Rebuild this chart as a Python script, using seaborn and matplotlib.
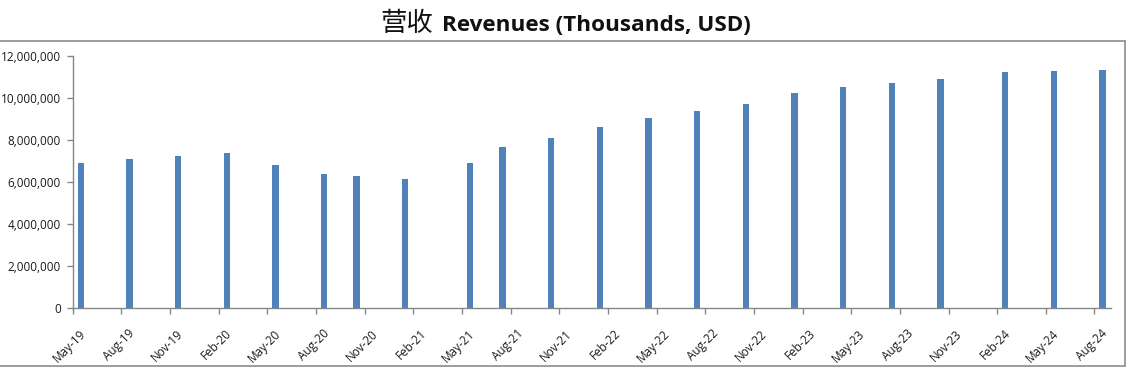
import matplotlib
matplotlib.use("Agg")
import matplotlib.pyplot as plt
import matplotlib.transforms as mtransforms
import seaborn as sns
import numpy as np
import pandas as pd
from matplotlib.ticker import FuncFormatter, FixedLocator
from matplotlib.lines import Line2D

# ---- data ----
periods = ["2019-05", "2019-08", "2019-11", "2020-02", "2020-05", "2020-08", "2020-10",
           "2021-01", "2021-05", "2021-07", "2021-10", "2022-01", "2022-04", "2022-07",
           "2022-10", "2023-01", "2023-04", "2023-07", "2023-10", "2024-02", "2024-05",
           "2024-08"]
revenues = [6900000, 7090000, 7240000, 7380000, 6810000, 6380000, 6280000,
            6140000, 6900000, 7660000, 8090000, 8610000, 9040000, 9370000,
            9710000, 10230000, 10510000, 10700000, 10890000, 11230000, 11280000,
            11330000]
tick_labels = ["May-19", "Aug-19", "Nov-19", "Feb-20", "May-20", "Aug-20", "Nov-20",
               "Feb-21", "May-21", "Aug-21", "Nov-21", "Feb-22", "May-22", "Aug-22",
               "Nov-22", "Feb-23", "May-23", "Aug-23", "Nov-23", "Feb-24", "May-24",
               "Aug-24"]
y_ticks = [0, 2000000, 4000000, 6000000, 8000000, 10000000, 12000000]
title_cn = "营收"
title_en = "Revenues (Thousands, USD)"

# month index axis (May-2019 = 0), bars centered in their month slot
start = pd.Period("2019-05", freq="M")
pos = [(pd.Period(p, freq="M") - start).n + 0.5 for p in periods]
tick_pos = [(pd.Period(pd.to_datetime(l, format="%b-%y"), freq="M") - start).n for l in tick_labels]
df = pd.DataFrame({"pos": pos, "rev": revenues})

sns.set_theme(style="white")
plt.rcParams["font.family"] = ["Open Sans", "Noto Sans CJK SC", "DejaVu Sans"]

W, H = 1129, 371
fig = plt.figure(figsize=(W / 100, H / 100), dpi=100)
ax = fig.add_axes([72.7 / W, 1 - 308.3 / H, (1110.7 - 72.7) / W, (308.3 - 55.7) / H])

sns.barplot(data=df, x="pos", y="rev", native_scale=True, width=0.195,
            color="#4F81BD", saturation=1, ax=ax, linewidth=0)

axis_col = "#868686"
ax.set_xlim(0, 64)
ax.set_ylim(0, 12000000)
ax.set_xlabel("")
ax.set_ylabel("")
ax.xaxis.set_major_locator(FixedLocator(tick_pos))
ax.set_xticklabels(tick_labels)
ax.yaxis.set_major_locator(FixedLocator(y_ticks))
ax.yaxis.set_major_formatter(FuncFormatter(lambda v, p: f"{int(v):,}"))
for s in ["top", "right"]:
    ax.spines[s].set_visible(False)
for s in ["left", "bottom"]:
    ax.spines[s].set_color(axis_col)
    ax.spines[s].set_linewidth(1.0)
ax.tick_params(axis="both", which="major", direction="out", length=4.5, width=1.0,
               color=axis_col, labelsize=8.5, labelcolor="#1a1a1a", pad=3)
ax.tick_params(axis="y", pad=4)
ax.tick_params(bottom=True, left=True)
shift = mtransforms.ScaledTranslation(11 / 100, -13 / 100, fig.dpi_scale_trans)
for lab in ax.get_xticklabels():
    lab.set_rotation(45)
    lab.set_ha("right")
    lab.set_va("center")
    lab.set_rotation_mode("anchor")
    lab.set_transform(lab.get_transform() + shift)
ax.grid(False)

# titles
fig.text(433 / W, 1 - 31 / H, title_cn, ha="right", va="baseline", fontsize=19,
         family=["Noto Sans CJK SC"], color="#111111")
fig.text(442 / W, 1 - 31 / H, title_en, ha="left", va="baseline", fontsize=16.2,
         fontweight="bold", family=["Open Sans", "DejaVu Sans"], color="#111111")

# outer chart frame
frame_col = "#8c8c8c"
fig.add_artist(Line2D([0, 1125 / W], [1 - 41 / H, 1 - 41 / H], transform=fig.transFigure,
                      color=frame_col, lw=1.2))
fig.add_artist(Line2D([0, 1125 / W], [1 - 366 / H, 1 - 366 / H], transform=fig.transFigure,
                      color=frame_col, lw=1.2))
fig.add_artist(Line2D([1125 / W, 1125 / W], [1 - 41 / H, 1 - 366 / H], transform=fig.transFigure,
                      color=frame_col, lw=1.2))

fig.savefig("out.png", dpi=100)
